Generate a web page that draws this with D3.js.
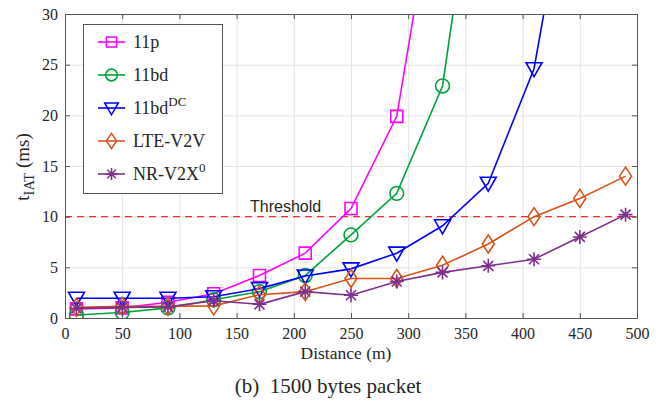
<!DOCTYPE html>
<html>
<head>
<meta charset="utf-8">
<script src="https://cdn.jsdelivr.net/npm/d3@7"></script>
<style>
  body { margin: 0; background: #fff; }
  text { font-family: "Liberation Serif", "Times New Roman", serif; fill: #262626; }
</style>
</head>
<body>
<svg width="660" height="403"></svg>
<script>
// distances (m)
var distances = [10, 50, 90, 130, 170, 210, 250, 290, 330, 370, 410, 450, 490];

// t_IAT (ms) per technology (points beyond 30 ms run off the top)
var p11 = [0.9, 1.0, 1.55, 2.4, 4.2, 6.4, 10.8, 19.9, 47];
var bd11 = [0.3, 0.55, 1.0, 1.8, 2.6, 4.2, 8.2, 12.3, 22.9, 54];
var bd11dc = [1.95, 1.95, 1.95, 2.1, 2.9, 4.15, 4.85, 6.4, 9.1, 13.3, 24.6, 50];
var lteV2V = [1.05, 1.15, 1.15, 1.2, 2.3, 2.6, 3.9, 3.9, 5.2, 7.3, 10.0, 11.8, 14.0];
var nrV2X = [0.95, 1.05, 1.1, 1.7, 1.35, 2.6, 2.25, 3.6, 4.5, 5.15, 5.8, 8.0, 10.2];

var xTicks = [0, 50, 100, 150, 200, 250, 300, 350, 400, 450, 500];
var yTicks = [0, 5, 10, 15, 20, 25, 30];
var threshold = 10;

var series = [
  {name: "11p", sup: "", values: p11, color: "#ff00ff", marker: "square"},
  {name: "11bd", sup: "", values: bd11, color: "#00a33a", marker: "circle"},
  {name: "11bd", sup: "DC", values: bd11dc, color: "#0000ff", marker: "triangle"},
  {name: "LTE-V2V", sup: "", values: lteV2V, color: "#d95319", marker: "diamond"},
  {name: "NR-V2X", sup: "0", values: nrV2X, color: "#7e2f8e", marker: "star"}
];

var svg = d3.select("svg"),
    plotLeft = 65, plotTop = 14, plotRight = 637, plotBottom = 318,
    width = plotRight - plotLeft,
    height = plotBottom - plotTop;

var x = d3.scaleLinear().domain([0, 500]).range([0, width]),
    y = d3.scaleLinear().domain([0, 30]).range([height, 0]);

var g = svg.append("g").attr("transform", "translate(" + plotLeft + "," + plotTop + ")");

svg.append("defs").append("clipPath").attr("id", "plot")
  .append("rect").attr("width", width).attr("height", height);

// grid
g.append("g")
  .attr("transform", "translate(0," + height + ")")
  .call(d3.axisBottom(x).tickValues(xTicks).tickSize(-height).tickFormat(""))
  .call(function(s) { s.select(".domain").remove(); s.selectAll("line").attr("stroke", "#e3e3e3"); });
g.append("g")
  .call(d3.axisLeft(y).tickValues(yTicks).tickSize(-width).tickFormat(""))
  .call(function(s) { s.select(".domain").remove(); s.selectAll("line").attr("stroke", "#e3e3e3"); });

// threshold
g.append("line")
  .attr("x1", 0).attr("x2", width)
  .attr("y1", y(threshold)).attr("y2", y(threshold))
  .attr("stroke", "#ff0000").attr("stroke-width", 1)
  .attr("stroke-dasharray", "7,5");
g.append("text")
  .attr("x", 185).attr("y", y(threshold) - 5)
  .style("font-family", "'Liberation Sans', Arial, sans-serif")
  .style("font-size", "16px")
  .text("Threshold");

function markerPath(type) {
  if (type == "square") return d3.symbol(d3.symbolSquare, 144)();
  if (type == "circle") return d3.symbol(d3.symbolCircle, 150)();
  if (type == "triangle") return "M-8,-6L8,-6L0,8Z";
  if (type == "diamond") return "M0,-9L6,0L0,9L-6,0Z";
  return "M-7,0L7,0M0,-7L0,7M-5,-5L5,5M-5,5L5,-5";
}

var line = d3.line()
  .x(function(d) { return x(d[0]); })
  .y(function(d) { return y(d[1]); });

var plot = g.append("g").attr("clip-path", "url(#plot)");

series.forEach(function(s) {
  var pts = s.values.map(function(v, i) { return [distances[i], v]; });
  plot.append("path")
    .datum(pts)
    .attr("fill", "none")
    .attr("stroke", s.color)
    .attr("stroke-width", 1.6)
    .attr("d", line);
  plot.selectAll(null)
    .data(pts)
    .enter().append("path")
    .attr("transform", function(d) { return "translate(" + x(d[0]) + "," + y(d[1]) + ")"; })
    .attr("d", markerPath(s.marker))
    .attr("fill", "none")
    .attr("stroke", s.color)
    .attr("stroke-width", 1.6);
});

// axes box with inward ticks
var axisColor = "#555";
function styleAxis(s) {
  s.select(".domain").attr("stroke", axisColor);
  s.selectAll(".tick line").attr("stroke", axisColor);
  s.selectAll("text").style("font-size", "16px").attr("fill", "#262626")
    .style("font-family", "'Liberation Serif', serif");
}
g.append("g")
  .attr("transform", "translate(0," + height + ")")
  .call(d3.axisBottom(x).tickValues(xTicks).tickSizeInner(-5).tickSizeOuter(0).tickPadding(10))
  .call(styleAxis);
g.append("g")
  .call(d3.axisTop(x).tickValues(xTicks).tickSizeInner(-5).tickSizeOuter(0).tickFormat(""))
  .call(styleAxis);
g.append("g")
  .call(d3.axisLeft(y).tickValues(yTicks).tickSizeInner(-5).tickSizeOuter(0).tickPadding(7))
  .call(styleAxis);
g.append("g")
  .attr("transform", "translate(" + width + ",0)")
  .call(d3.axisRight(y).tickValues(yTicks).tickSizeInner(-5).tickSizeOuter(0).tickFormat(""))
  .call(styleAxis);

// axis labels
svg.append("text")
  .attr("x", plotLeft + width / 2 - 5).attr("y", 359)
  .attr("text-anchor", "middle")
  .style("font-size", "17.5px")
  .text("Distance (m)");

var yl = svg.append("text")
  .attr("transform", "translate(29,167) rotate(-90)")
  .attr("text-anchor", "middle")
  .style("font-size", "19px");
yl.append("tspan").text("t");
yl.append("tspan").attr("dy", 5).style("font-size", "14.5px").text("IAT");
yl.append("tspan").attr("dy", -5).text(" (ms)");

// caption
svg.append("text")
  .attr("x", 328).attr("y", 393)
  .attr("text-anchor", "middle")
  .style("font-size", "21px")
  .style("white-space", "pre")
  .text("(b)  1500 bytes packet");

// legend
var legend = svg.append("g");
legend.append("rect")
  .attr("x", 83.5).attr("y", 24.5)
  .attr("width", 139).attr("height", 169)
  .attr("fill", "#fff")
  .attr("stroke", "#555")
  .attr("stroke-width", 1);

series.forEach(function(s, i) {
  var ry = 42 + i * 33;
  legend.append("line")
    .attr("x1", 98).attr("x2", 125)
    .attr("y1", ry).attr("y2", ry)
    .attr("stroke", s.color).attr("stroke-width", 1.6);
  legend.append("path")
    .attr("transform", "translate(111.5," + ry + ") scale(0.85)")
    .attr("d", markerPath(s.marker))
    .attr("fill", "none")
    .attr("stroke", s.color)
    .attr("stroke-width", 1.8);
  var t = legend.append("text")
    .attr("x", 133).attr("y", ry + 6)
    .style("font-size", "18px");
  t.append("tspan").text(s.name);
  if (s.sup) t.append("tspan").attr("dy", -8).style("font-size", "13px").text(s.sup);
});
</script>
</body>
</html>
